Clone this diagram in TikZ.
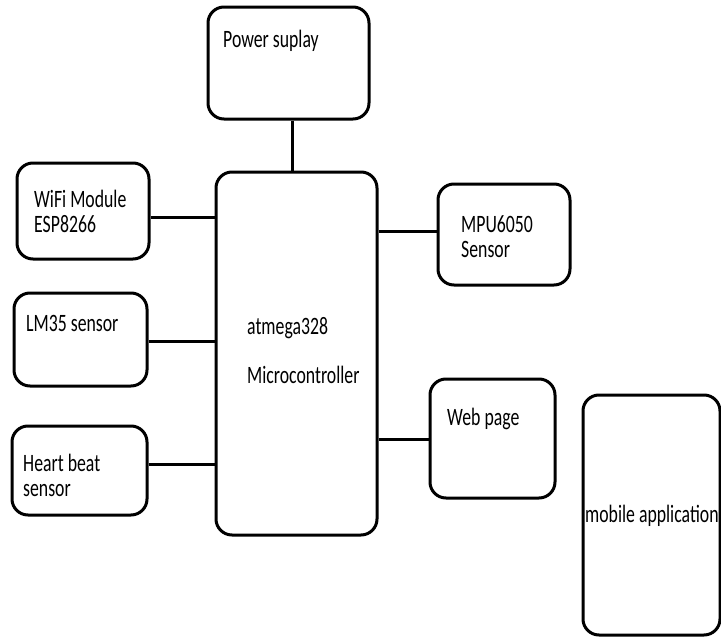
\documentclass[tikz,border=0pt]{standalone}
\usepackage{fontspec}
\setmainfont{Carlito}[FakeStretch=0.71]
\begin{document}
\begin{tikzpicture}[x=1pt,y=-1pt,
  blk/.style={draw=black,line width=3pt,rounded corners=16pt,inner sep=0pt},
  wire/.style={draw=black,line width=3pt},
  lbl/.style={anchor=base west,inner sep=0pt,font=\fontsize{25}{25}\selectfont,align=left}]
\useasboundingbox (0,0) rectangle (721,637);
\fill[white] (0,0) rectangle (721,637);
% boxes: centre, width, height
\node[blk,minimum width=161pt,minimum height=112pt] (ps) at (288.5,63) {};
\node[blk,minimum width=161pt,minimum height=363pt] (mc) at (296.5,353.5) {};
\node[blk,minimum width=132pt,minimum height=96pt] (wifi) at (83,211) {};
\node[blk,minimum width=133pt,minimum height=93pt] (lm) at (80.5,339.5) {};
\node[blk,minimum width=135pt,minimum height=89pt] (hb) at (79.5,470.5) {};
\node[blk,minimum width=132pt,minimum height=101pt] (mpu) at (504,234.5) {};
\node[blk,minimum width=125pt,minimum height=119pt] (web) at (492.5,438.5) {};
\node[blk,minimum width=137pt,minimum height=240pt] (mob) at (651.5,515) {};
% labels (base of last line)
\node[lbl] (tps) at (223,47) {Power suplay};
\node[lbl] (twifi) at (34,232) {WiFi Module\\ESP8266};
\node[lbl] (tlm) at (26,331) {LM35 sensor};
\node[lbl] (thb) at (23,496) {Heart beat\\sensor};
\node[lbl] (tmc1) at (247,334) {atmega328};
\node[lbl] (tmc2) at (247,383) {Microcontroller};
\node[lbl] (tmpu) at (461,257) {MPU6050\\Sensor};
\node[lbl] (tweb) at (447,425) {Web page};
\node[lbl] (tmob) at (585,522) {mobile application};
% connectors
\draw[wire] (ps.south -| 292,0) -- (mc.north -| 292,0);
\draw[wire] (wifi.east |- 0,217) -- (mc.west |- 0,217);
\draw[wire] (lm.east |- 0,341) -- (mc.west |- 0,341);
\draw[wire] (hb.east |- 0,464) -- (mc.west |- 0,464);
\draw[wire] (mc.east |- 0,231) -- (mpu.west |- 0,231);
\draw[wire] (mc.east |- 0,439) -- (web.west |- 0,439);
\end{tikzpicture}
\end{document}
